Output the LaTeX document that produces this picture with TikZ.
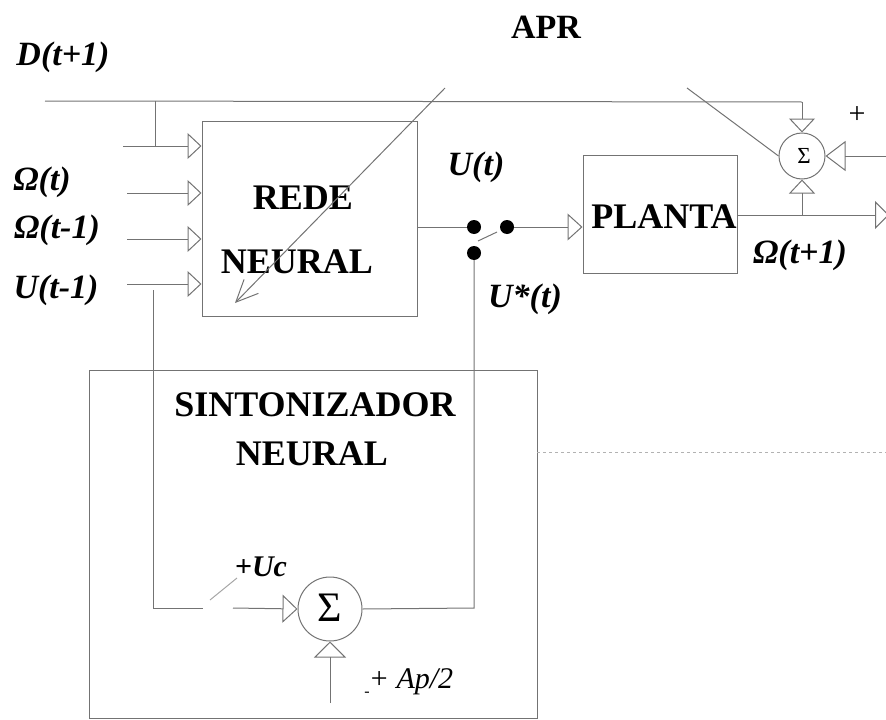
\documentclass[tikz,border=0pt]{standalone}
\usepackage{fontspec}
\setmainfont{Liberation Serif}
\usetikzlibrary{arrows.meta}
\begin{document}
\begin{tikzpicture}[x=1pt,y=-1pt,
  ln/.style={line width=1pt, draw=black!55},
  blk/.style={ln, rectangle, inner sep=0pt},
  sumc/.style={ln, circle, inner sep=0pt},
  tri/.style={-{Triangle[open,length=14pt,width=26pt,line width=1pt]}},
  tribig/.style={-{Triangle[open,length=16pt,width=32pt,line width=1pt]}},
  adapt/.style={-{Straight Barb[length=22pt,width=20pt,line width=1pt]}},
  dot/.style={circle, fill=black, inner sep=0pt, minimum size=14pt},
  boxlab/.style={font=\fontsize{36}{40}\selectfont\bfseries, inner sep=0pt},
  siglab/.style={font=\fontsize{34}{38}\selectfont\bfseries\itshape, inner sep=0pt},
  smlab/.style={font=\fontsize{30}{34}\selectfont\itshape, inner sep=0pt}
]
\useasboundingbox (0,0) rectangle (886,720);

% blocks
\node[blk, minimum width=215pt, minimum height=195pt] (rede) at (309.5,218.5) {};
\node[blk, minimum width=154pt, minimum height=118pt] (planta) at (660,214) {};
\node[blk, minimum width=448pt, minimum height=348pt] (sint) at (313,544) {};
\node[sumc, minimum size=64pt] (sumB) at (330,609) {};
\node[sumc, minimum size=46pt] (sumT) at (802,156) {};
\node[inner sep=0pt, font=\fontsize{42}{44}\selectfont] (sigB) at (330,608) {Σ};
\node[inner sep=0pt, font=\fontsize{23}{25}\selectfont] (sigT) at (804,156) {Σ};

% box texts
\node[boxlab] (tRede) at (303,198) {REDE};
\node[boxlab] (tNeural) at (297,262) {NEURAL};
\node[boxlab] (tPlanta) at (664,217) {PLANTA};
\node[boxlab] (tSint) at (315,405) {SINTONIZADOR};
\node[boxlab] (tSneural) at (312,454) {NEURAL};
\node[boxlab, font=\fontsize{34}{38}\selectfont\bfseries] (tAPR) at (546,27) {APR};

% signal labels
\node[siglab] (lD) at (63,57) {D(t+1)};
\node[siglab] (lW0) at (42,182) {Ω(t)};
\node[siglab] (lW1) at (57,230) {Ω(t-1)};
\node[siglab] (lU1) at (56,290) {U(t-1)};
\node[siglab] (lU) at (476,167) {U(t)};
\node[siglab] (lUs) at (525,299) {U*(t)};
\node[siglab] (lWp) at (800,255) {Ω(t+1)};
\node[smlab, font=\fontsize{30}{34}\selectfont\bfseries\itshape] (lUc) at (261,567) {+Uc};
\node[smlab] (lAp) at (411,682) {+ Ap/2};
\node[inner sep=0pt, font=\fontsize{16}{18}\selectfont] (lminus) at (367,694) {-};
\node[inner sep=0pt, font=\fontsize{30}{32}\selectfont] (lplus) at (857,115) {+};

% switch dots
\node[dot] (swL) at (474,227) {};
\node[dot] (swR) at (507,227) {};
\node[dot] (swB) at (474,253) {};

% coordinates
\coordinate (dA) at (45,101);
\coordinate (dB) at (155,101);
\coordinate (dC) at (802,102);
\coordinate (in0a) at (123,146);
\coordinate (in0b) at (155,146);
\coordinate (in1) at (127,193);
\coordinate (in2) at (127,239);
\coordinate (in3) at (127,284);
\coordinate (loopA) at (153,290);
\coordinate (loopB) at (153,608);
\coordinate (loopC) at (203,608);
\coordinate (swA) at (210,600);
\coordinate (swZ) at (237,578);
\coordinate (loopD) at (233,608);
\coordinate (loopR) at (474,608);
\coordinate (apIn) at (330,703);
\coordinate (outE) at (889,215);
\coordinate (outBr) at (802,215);
\coordinate (rIn) at (886,156);
\coordinate (errA) at (687,88);
\coordinate (adA) at (445,88);
\coordinate (adB) at (235,303);
\coordinate (sintR) at (537,452);
\coordinate (sintE) at (886,452);

% D(t+1) line and branches
\draw[ln] (dA) -- (dC);
\draw[ln, tri] (dC) -- (sumT.north);
\draw[ln] (dB) -- (in0b);
\draw[ln, tri] (in0a) -- (in0a -| rede.west);

% inputs of the neural network
\draw[ln, tri] (in1) -- (in1 -| rede.west);
\draw[ln, tri] (in2) -- (in2 -| rede.west);
\draw[ln, tri] (in3) -- (in3 -| rede.west);

% adaptation arrow
\draw[ln, adapt] (adA) -- (adB);

% network output and switch
\draw[ln] (swL -| rede.east) -- (swL);
\draw[ln, -{Triangle[open,length=15pt,width=27pt,line width=1pt]}] (swR) -- (swR -| planta.west);
\draw[ln] (478,241) -- (497,232);

% plant output
\draw[ln, -{Triangle[open,length=14pt,width=28pt,line width=1pt]}] (outBr -| planta.east) -- (outE);
\draw[ln, tri] (outBr) -- (sumT.south);
\draw[ln, -{Triangle[open,length=20pt,width=30pt,line width=1pt]}] (rIn) -- (sumT.east);
\draw[ln] (errA) -- (sumT.west);

% tuner loop
\draw[ln] (loopA) -- (loopB) -- (loopC);
\draw[ln, draw=black!35] (swA) -- (swZ);
\draw[ln, -{Triangle[open,length=15pt,width=28pt,line width=1pt]}] (loopD) -- (sumB.west);
\draw[ln] (sumB.east) -- (loopR) -- (swB);
\draw[ln, tribig] (apIn) -- (sumB.south);

% faint line to the right of the tuner
\draw[ln, draw=black!30, dashed] (sintR) -- (sintE);
\end{tikzpicture}
\end{document}
